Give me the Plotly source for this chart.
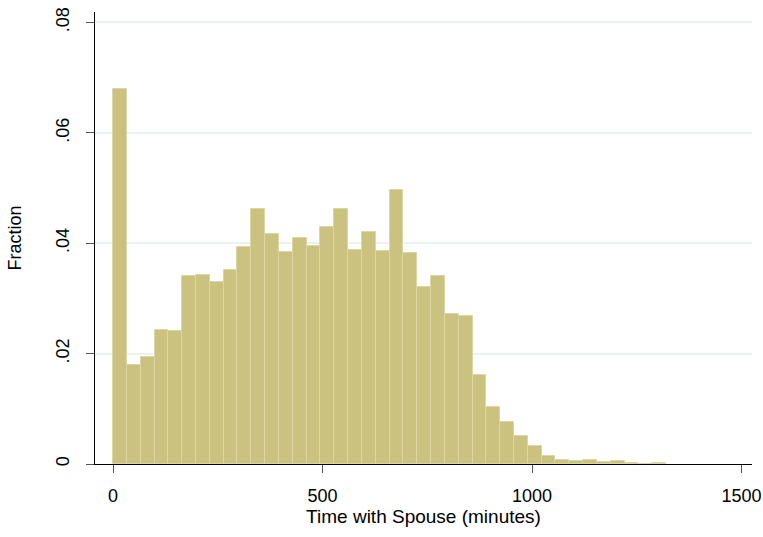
import plotly.graph_objects as go

# Histogram: fraction of observations per bin of "Time with Spouse (minutes)"
bin_start = 0
bin_width = 33
fractions = [
    0.0680, 0.0180, 0.0193, 0.0243, 0.0241, 0.0341, 0.0342, 0.0329, 0.0352, 0.0394,
    0.0462, 0.0416, 0.0385, 0.0409, 0.0395, 0.0430, 0.0462, 0.0388, 0.0421, 0.0386,
    0.0496, 0.0382, 0.0320, 0.0340, 0.0272, 0.0268, 0.0161, 0.0103, 0.0076, 0.0051,
    0.0032, 0.0015, 0.0007, 0.00054, 0.0007, 0.0003, 0.00054, 0.00013, 0.00005, 0.0002,
]
x_ticks = [0, 500, 1000, 1500]
x_tick_labels = ["0", "500", "1000", "1500"]
y_ticks = [0, 0.02, 0.04, 0.06, 0.08]
y_tick_labels = ["0", ".02", ".04", ".06", ".08"]

centers = [bin_start + (i + 0.5) * bin_width for i in range(len(fractions))]

FONT = "Liberation Sans, Arial, Helvetica, sans-serif"

fig = go.Figure(
    go.Bar(
        x=centers,
        y=fractions,
        width=bin_width,
        marker=dict(color="#CAC27E", line=dict(color="#DCD6A4", width=1)),
        hoverinfo="x+y",
    )
)

fig.update_layout(
    width=763,
    height=537,
    margin=dict(l=95, r=11, t=12, b=73),
    paper_bgcolor="white",
    plot_bgcolor="white",
    showlegend=False,
    bargap=0,
    font=dict(family=FONT, size=18, color="#000000"),
    xaxis=dict(
        range=[-43, 1525],
        tickvals=x_ticks,
        ticktext=x_tick_labels,
        ticks="outside",
        ticklen=8,
        tickwidth=1,
        tickcolor="#555555",
        showline=True,
        linecolor="black",
        linewidth=1,
        showgrid=False,
        zeroline=False,
        automargin=False,
        ticklabelstandoff=7,
        title=dict(text="Time with Spouse (minutes)", font=dict(size=19), standoff=3),
    ),
    yaxis=dict(
        range=[0, 0.0819],
        tickvals=y_ticks,
        ticktext=y_tick_labels,
        tickangle=-90,
        ticks="outside",
        ticklen=8,
        tickwidth=1,
        tickcolor="#555555",
        showline=True,
        linecolor="black",
        linewidth=1,
        showgrid=True,
        gridcolor="#EAF2F3",
        gridwidth=1.5,
        zeroline=False,
        automargin=False,
        ticklabelstandoff=10,
        title=dict(text="Fraction", font=dict(size=18), standoff=26),
    ),
)

fig.write_html("out.html")
